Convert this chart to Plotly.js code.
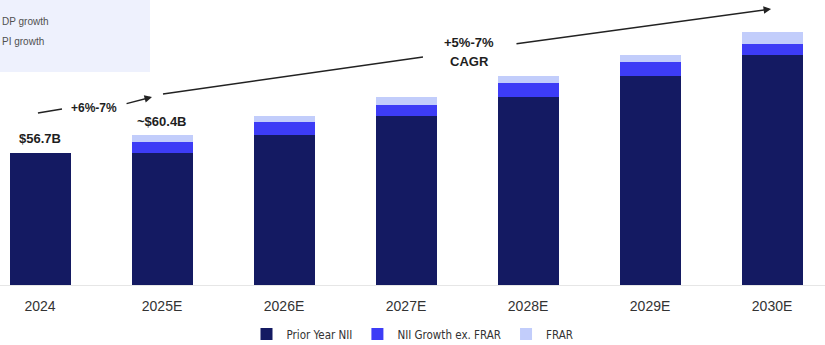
<!DOCTYPE html>
<html>
<head>
<meta charset="utf-8">
<script src="https://cdn.plot.ly/plotly-3.0.1.min.js"></script>
<style>
  html, body { margin: 0; padding: 0; background: #ffffff; }
  #chart { width: 825px; height: 345px; }
</style>
</head>
<body>
<div id="chart"></div>
<script>
// ---- data ($B) ----
const years = ["2024", "2025E", "2026E", "2027E", "2028E", "2029E", "2030E"];
const priorYearNII = [56.7, 56.7, 60.4, 64.3, 68.2, 72.5, 76.8];
const niiGrowthExFRAR = [0, 2.3, 2.7, 2.3, 2.9, 2.9, 2.3];
const frar = [0, 1.4, 1.2, 1.6, 1.4, 1.4, 2.5];
const seriesNames = ["Prior Year NII", "NII Growth ex. FRAR", "FRAR"];
const totalLabels = ["$56.7B", "~$60.4B"];
const shortGrowthLabel = "+6%-7%";
const cagrLabel = ["+5%-7%", "CAGR"];
const boxLines = ["DP growth", "PI growth"];

const colors = ["#141a62", "#3d3cf6", "#c2cdfb"];
const FONT = "'Liberation Sans', Arial, sans-serif";

const traces = [priorYearNII, niiGrowthExFRAR, frar].map((vals, i) => ({
  type: "bar",
  x: years,
  y: vals,
  name: seriesNames[i],
  marker: { color: colors[i], line: { width: 0 } },
  hoverinfo: "skip"
}));

const totals = years.map((_, i) => priorYearNII[i] + niiGrowthExFRAR[i] + frar[i]);

const annotations = [
  { x: 0, y: totals[0], yanchor: "bottom", yshift: 5, text: "<b>" + totalLabels[0] + "</b>", showarrow: false, font: { family: FONT, size: 13, color: "#1e1e1e" } },
  { x: 1, y: totals[1], yanchor: "bottom", yshift: 4, text: "<b>" + totalLabels[1] + "</b>", showarrow: false, font: { family: FONT, size: 13, color: "#1e1e1e" } },
  { x: 0.44, y: 65.9, text: "<b>" + shortGrowthLabel + "</b>", showarrow: false, font: { family: FONT, size: 12, color: "#1e1e1e" } },
  { x: 3.52, y: 79.4, text: "<b>" + cagrLabel[0] + "</b>", showarrow: false, font: { family: FONT, size: 13, color: "#1e1e1e" } },
  { x: 3.52, y: 75.5, text: "<b>" + cagrLabel[1] + "</b>", showarrow: false, font: { family: FONT, size: 13, color: "#1e1e1e" } },
  // arrow heads
  { x: 0.918, y: 68.21, ax: 0.697, ay: 66.77, axref: "x", ayref: "y", xref: "x", yref: "y", text: "", showarrow: true, arrowhead: 2, arrowsize: 1, arrowwidth: 1.5, arrowcolor: "#222", standoff: 0, startstandoff: 0 },
  { x: 5.992, y: 86.3, ax: 3.893, ay: 79.11, axref: "x", ayref: "y", xref: "x", yref: "y", text: "", showarrow: true, arrowhead: 2, arrowsize: 1, arrowwidth: 1.5, arrowcolor: "#222", standoff: 0, startstandoff: 0 },
  // top-left box text
  { xref: "paper", yref: "paper", x: 0, y: (285 - 14) / 285, xanchor: "left", text: boxLines[0], showarrow: false, font: { family: FONT, size: 10, color: "#505050" } },
  { xref: "paper", yref: "paper", x: 0, y: (285 - 34) / 285, xanchor: "left", text: boxLines[1], showarrow: false, font: { family: FONT, size: 10, color: "#505050" } }
];

const shapes = [
  { type: "rect", xref: "paper", yref: "paper", x0: 0, x1: 150 / 825, y0: (285 - 72) / 285, y1: 1, fillcolor: "#eef1fd", line: { width: 0 }, layer: "below" },
  { type: "line", xref: "x", yref: "y", x0: -0.017, y0: 64.92, x1: 0.18, y1: 65.75, line: { color: "#222", width: 1.5 } },
  { type: "line", xref: "x", yref: "y", x0: 1.008, y0: 68.83, x1: 3.139, y1: 76.44, line: { color: "#222", width: 1.5 } }
];

const layout = {
  width: 825,
  height: 345,
  margin: { l: 0, r: 0, t: 0, b: 60 },
  paper_bgcolor: "#ffffff",
  plot_bgcolor: "#ffffff",
  barmode: "stack",
  bargap: 0.5,
  showlegend: true,
  legend: {
    orientation: "h",
    x: 0.5, xanchor: "center",
    yref: "container",
    y: 11 / 345, yanchor: "middle",
    font: { family: "'Liberation Sans Narrow', 'DejaVu Sans Condensed', 'Liberation Sans', Arial, sans-serif", size: 11.5, color: "#333" },
    traceorder: "normal",
    itemwidth: 30
  },
  xaxis: {
    type: "category",
    range: [-0.328, 6.434],
    automargin: false,
    showline: true,
    linecolor: "#e6e6e6",
    linewidth: 1,
    ticks: "",
    showgrid: false,
    tickfont: { family: FONT, size: 14, color: "#333" },
    ticklabelstandoff: 8,
    fixedrange: true
  },
  yaxis: {
    range: [29.57, 88.15],
    visible: false,
    showgrid: false,
    zeroline: false,
    fixedrange: true
  },
  annotations: annotations,
  shapes: shapes,
  font: { family: FONT }
};

Plotly.newPlot("chart", traces, layout, { displayModeBar: false, staticPlot: true });
</script>
</body>
</html>
